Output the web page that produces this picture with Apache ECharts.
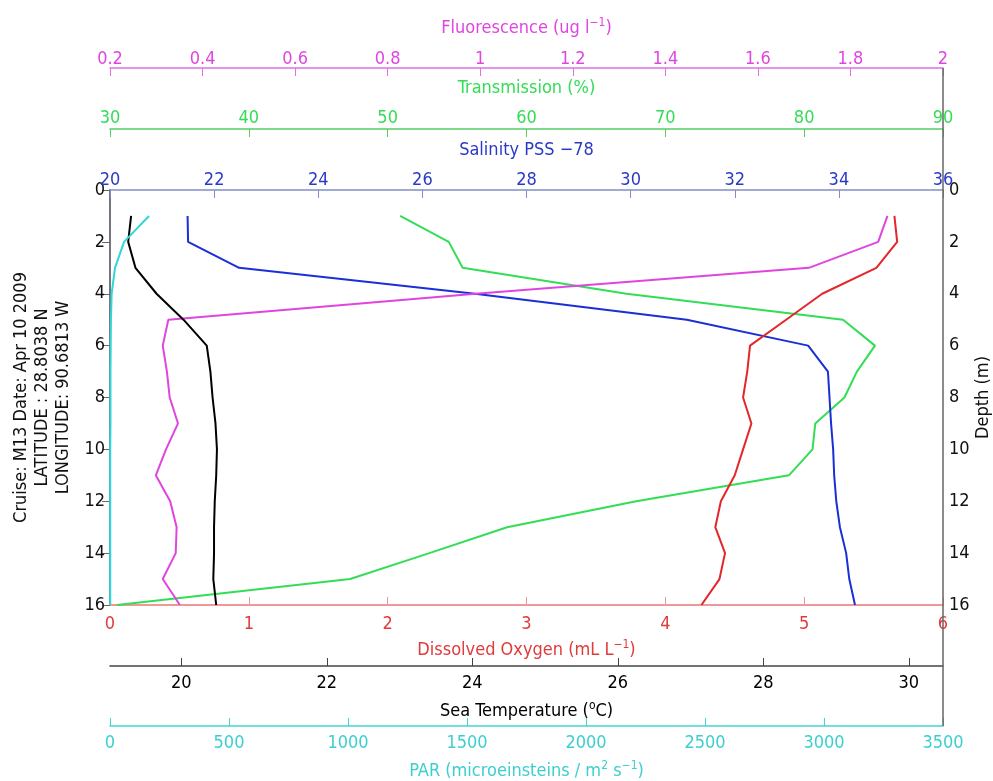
<!DOCTYPE html>
<html>
<head>
<meta charset="utf-8">
<title>CTD profile M13</title>
<script src="https://cdn.jsdelivr.net/npm/echarts@6/dist/echarts.min.js"></script>
<style>
  html, body { margin: 0; padding: 0; background: #ffffff; }
  #chart { width: 993px; height: 781px; }
</style>
</head>
<body>
<div id="chart"></div>
<script>
// Depth of each sample (m)
const depth = [1, 2, 3, 4, 5, 6, 7, 8, 9, 10, 11, 12, 13, 14, 15, 16];

// Profiles, one value per depth
const temperature = [19.31, 19.27, 19.37, 19.66, 20.03, 20.35, 20.40, 20.43, 20.47, 20.49, 20.48, 20.46, 20.45, 20.45, 20.44, 20.48];
const salinity = [21.49, 21.50, 22.48, 27.01, 31.08, 33.41, 33.79, 33.82, 33.85, 33.89, 33.91, 33.95, 34.02, 34.14, 34.20, 34.31];
const fluorescence = [1.88, 1.86, 1.71, 0.99, 0.326, 0.314, 0.323, 0.329, 0.347, 0.321, 0.299, 0.330, 0.344, 0.342, 0.314, 0.351];
const transmission = [50.9, 54.4, 55.4, 67.2, 82.8, 85.1, 83.8, 82.9, 80.8, 80.6, 78.9, 67.9, 58.6, 53.0, 47.3, 30.5];
const oxygen = [5.65, 5.67, 5.52, 5.13, 4.87, 4.61, 4.59, 4.56, 4.62, 4.56, 4.50, 4.40, 4.36, 4.43, 4.39, 4.26];
const par = [164, 59, 21, 7, 4, 3, 2, 2, 2, 1, 1, 1, 1, 1, 1, 1];

// Tick labels
const depthTicks = [0, 2, 4, 6, 8, 10, 12, 14, 16];
const tempTicks = [20, 22, 24, 26, 28, 30];
const fluorTicks = [0.2, 0.4, 0.6, 0.8, 1, 1.2, 1.4, 1.6, 1.8, 2];

const stationText = 'Cruise: M13 Date: Apr 10 2009\nLATITUDE : 28.8038 N\nLONGITUDE: 90.6813 W';

const FONT = '"DejaVu Sans Condensed", "DejaVu Sans", sans-serif';
const FS = 18;
const W = 993, H = 781;
const grid = { left: 110, right: 50, top: 190, bottom: 176 };

const C = {
  fluor: '#e045e0', fluorAxis: '#e070e0',
  trans: '#33dd55', transAxis: '#55cc66',
  sal: '#1a2fd6', salText: '#2a3ac8', salAxis: '#8090c8',
  oxy: '#e3262a', oxyText: '#e03a3a', oxyAxis: '#f09898',
  temp: '#000000', tempAxis: '#444444',
  par: '#33d6d6', parText: '#3dcfcf', parAxis: '#44d4d4'
};

function pairs(xs) { return xs.map((v, i) => [v, depth[i]]); }

const plainNum = v => String(+v.toFixed(6));

function xAxisDef(o) {
  return {
    type: 'value',
    position: o.position,
    offset: o.offset,
    min: o.min, max: o.max, interval: o.interval,
    name: o.name,
    nameLocation: 'middle',
    nameGap: o.nameGap,
    nameTextStyle: {
      color: o.text, fontSize: FS, fontFamily: FONT,
      rich: { sup: { color: o.text, fontSize: 12, fontFamily: FONT, verticalAlign: 'top', padding: [0, 0, 10, 0] } }
    },
    axisLine: { show: true, onZero: false, lineStyle: { color: o.line, width: o.lineWidth || 1.5 } },
    axisTick: Object.assign({ show: true, inside: true, length: 8, lineStyle: { color: o.line, width: 1 } },
      o.ticks ? { customValues: o.ticks } : {}),
    axisLabel: Object.assign({ color: o.text, fontSize: FS, fontFamily: FONT, margin: o.margin,
      showMinLabel: true, showMaxLabel: true, formatter: plainNum },
      o.ticks ? { customValues: o.ticks } : {}),
    splitLine: { show: false }
  };
}

const xAxes = [
  // 0: salinity (top, on the frame)
  xAxisDef({ position: 'top', offset: 0, min: 20, max: 36, interval: 2,
    name: 'Salinity PSS \u221278', nameGap: 31, text: C.salText, line: C.salAxis, margin: 1 }),
  // 1: transmission (top)
  xAxisDef({ position: 'top', offset: 61, min: 30, max: 90, interval: 10,
    name: 'Transmission (%)', nameGap: 32, text: C.trans, line: C.transAxis, margin: 2 }),
  // 2: fluorescence (top)
  xAxisDef({ position: 'top', offset: 122, min: 0.2, max: 2, ticks: fluorTicks,
    name: 'Fluorescence (ug l{sup|\u22121})', nameGap: 29, text: C.fluor, line: C.fluorAxis, margin: 0 }),
  // 3: dissolved oxygen (bottom, on the frame)
  xAxisDef({ position: 'bottom', offset: 0, min: 0, max: 6, interval: 1,
    name: 'Dissolved Oxygen (mL L{sup|\u22121})', nameGap: 34, text: C.oxyText, line: C.oxyAxis, margin: 10, lineWidth: 2 }),
  // 4: sea temperature (bottom)
  xAxisDef({ position: 'bottom', offset: 61, min: 19.02, max: 30.47, ticks: tempTicks,
    name: 'Sea Temperature ({sup|o}C)', nameGap: 34, text: '#000000', line: C.tempAxis, margin: 8 }),
  // 5: PAR (bottom)
  xAxisDef({ position: 'bottom', offset: 121, min: 0, max: 3500, interval: 500,
    name: 'PAR (microeinsteins / m{sup|2} s{sup|\u22121})', nameGap: 34, text: C.parText, line: C.parAxis, margin: 8 })
];

const yAxes = [
  {
    type: 'value', position: 'left', inverse: true, min: 0, max: 16, interval: 2,
    name: stationText, nameLocation: 'middle', nameRotate: 90, nameGap: 36,
    nameTextStyle: { color: '#111', fontSize: FS, fontFamily: FONT, lineHeight: 21, align: 'center' },
    axisLine: { show: true, lineStyle: { color: '#7d88b8', width: 1.5 } },
    axisTick: { show: false },
    axisLabel: { color: '#111', fontSize: FS, fontFamily: FONT, margin: 5, customValues: depthTicks },
    splitLine: { show: false }
  },
  {
    type: 'value', position: 'right', inverse: true, min: 0, max: 16, interval: 2,
    name: 'Depth (m)', nameLocation: 'middle', nameRotate: 90, nameGap: 31, nameMoveOverlap: false,
    nameTextStyle: { color: '#111', fontSize: FS, fontFamily: FONT },
    axisLine: { show: true, lineStyle: { color: '#666666', width: 1.5 } },
    axisTick: { show: true, inside: true, length: 8, lineStyle: { color: '#666666' }, customValues: depthTicks },
    axisLabel: { color: '#111', fontSize: FS, fontFamily: FONT, margin: 6, customValues: depthTicks },
    splitLine: { show: false }
  }
];

function lineSeries(name, xIdx, values, color) {
  return {
    name, type: 'line', xAxisIndex: xIdx, yAxisIndex: 0,
    data: pairs(values), showSymbol: false, symbol: 'none', smooth: false,
    lineStyle: { color, width: 2 }, z: 3
  };
}

const series = [
  lineSeries('Transmission', 1, transmission, C.trans),
  lineSeries('Salinity', 0, salinity, C.sal),
  lineSeries('Fluorescence', 2, fluorescence, C.fluor),
  lineSeries('Dissolved Oxygen', 3, oxygen, C.oxy),
  lineSeries('Sea Temperature', 4, temperature, C.temp),
  lineSeries('PAR', 5, par, C.par)
];

// Right-hand frame edge shared by the stacked axes
const frameX = W - grid.right;
const graphic = [{
  type: 'line', silent: true, z: 1,
  shape: { x1: frameX, y1: grid.top - 122, x2: frameX, y2: H - grid.bottom + 121 },
  style: { stroke: '#666666', lineWidth: 1.5 }
}];

const chart = echarts.init(document.getElementById('chart'), null, { renderer: 'canvas', width: W, height: H });
chart.setOption({
  animation: false,
  backgroundColor: '#ffffff',
  grid: Object.assign({ containLabel: false, outerBoundsMode: 'none' }, grid),
  xAxis: xAxes,
  yAxis: yAxes,
  series,
  graphic
});
</script>
</body>
</html>
